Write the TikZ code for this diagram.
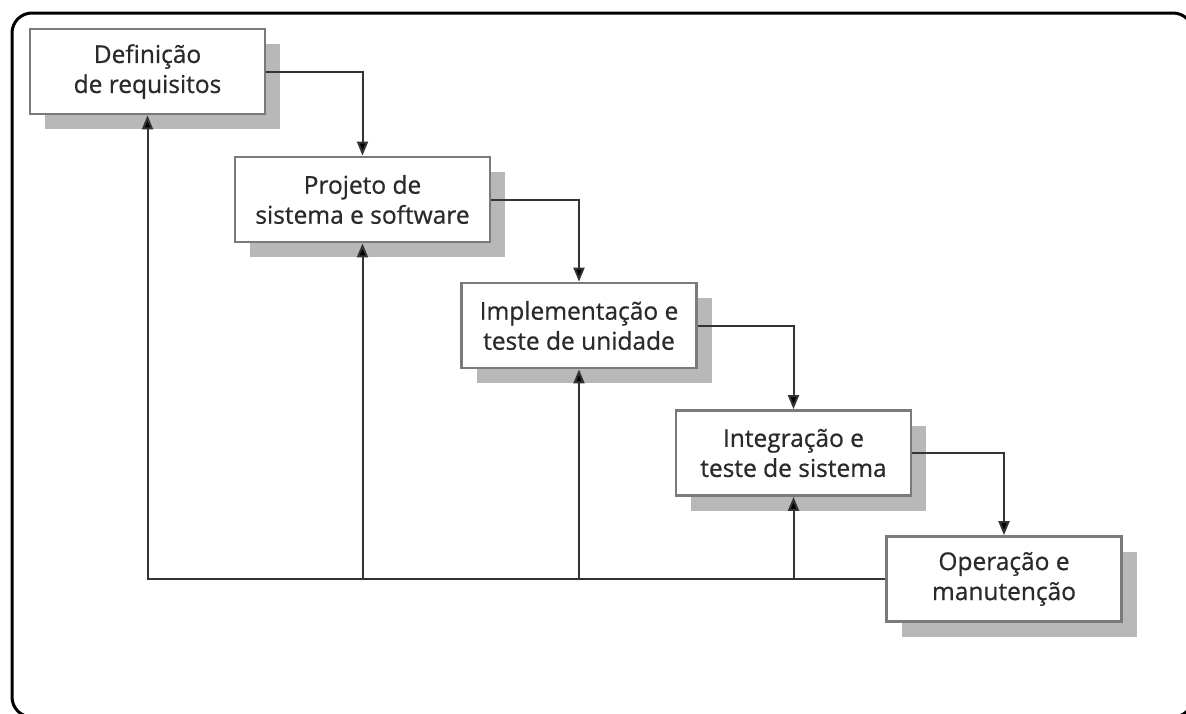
\documentclass[tikz,border=0pt]{standalone}
\usepackage{fontspec}
\setmainfont{Open Sans}
\newfontfamily\boxfont{Open Sans}[FakeBold=0.7]
\usetikzlibrary{arrows.meta,shadows}
\definecolor{boxgray}{HTML}{7A7A7A}
\definecolor{shadowgray}{HTML}{B8B8B8}
\definecolor{textgray}{HTML}{2A2A2A}
\definecolor{linegray}{HTML}{333333}
\begin{document}
\begin{tikzpicture}[x=1pt,y=-1pt,
  stage/.style={draw=boxgray, line width=2.8pt, fill=white,
    minimum width=235pt, minimum height=85pt, align=center,
    font=\boxfont\fontsize{24.5}{30}\selectfont, text=textgray, inner sep=0pt,
    general shadow={fill=shadowgray, shadow xshift=15pt, shadow yshift=-15pt}},
  flow/.style={draw=linegray, line width=2pt,
    -{Triangle[length=14pt,width=11pt,fill=black]}}]
\clip (0,0) rectangle (1186,713);
\fill[white] (0,0) rectangle (1186,713);
\draw[line width=3pt, rounded corners=20pt] (12,13) rectangle (1193,717);

\node[stage] (b1) at (147.5,71.5) {Definição\\de requisitos};
\node[stage, minimum width=255pt] (b2) at (362.5,199.5) {Projeto de\\sistema e software};
\node[stage] (b3) at (579,325.5) {Implementação e\\teste de unidade};
\node[stage] (b4) at (793.5,453) {Integração e\\teste de sistema};
\node[stage] (b5) at (1004,579) {Operação e\\manutenção};

\draw[flow] (b1.east) -| (b2.north);
\draw[flow] (b2.east) -| (b3.north);
\draw[flow] (b3.east) -| (b4.north);
\draw[flow] (b4.east) -| (b5.north);

\draw[flow] (b5.west) -| (b1.south);
\draw[flow] (b2.south |- b5.west) -- (b2.south);
\draw[flow] (b3.south |- b5.west) -- (b3.south);
\draw[flow] (b4.south |- b5.west) -- (b4.south);
\end{tikzpicture}
\end{document}
